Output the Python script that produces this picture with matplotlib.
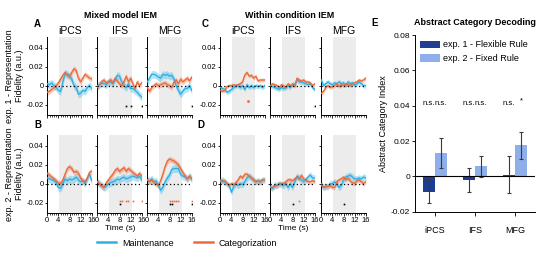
import numpy as np
import matplotlib.pyplot as plt

plt.rcParams['font.family'] = ['Liberation Sans', 'DejaVu Sans']

W, H = 553, 260
t = np.arange(21) * 0.8
rois = ['iPCS', 'IFS', 'MFG']

col_m = '#2cb1e6'
col_c = '#ec6b3c'

# ---- time courses (mean), Maintenance / Categorization ----
A_ipcs_m = [0.002, 0.001, 0.003, 0.000, -0.002, -0.005, -0.006, 0.004, 0.013, 0.012, 0.010, 0.007, 0.000, -0.002, -0.009, -0.008, -0.005, -0.006, -0.002, 0.000, -0.003]
A_ipcs_c = [-0.007, -0.006, -0.004, -0.002, 0.000, 0.003, 0.007, 0.011, 0.014, 0.011, 0.010, 0.014, 0.018, 0.016, 0.008, 0.004, 0.008, 0.012, 0.010, 0.008, 0.007]
A_ifs_m = [0.000, 0.001, 0.003, 0.002, 0.001, 0.004, 0.004, 0.002, 0.006, 0.011, 0.010, 0.004, 0.000, -0.002, 0.002, -0.003, -0.003, -0.005, -0.007, -0.010, -0.012]
A_ifs_c = [-0.002, 0.001, 0.004, 0.006, 0.003, 0.004, 0.006, 0.003, 0.008, 0.005, 0.002, 0.000, 0.004, 0.010, 0.004, 0.008, 0.002, -0.003, 0.004, 0.000, 0.003]
A_mfg_m = [0.004, 0.008, 0.012, 0.012, 0.011, 0.009, 0.008, 0.012, 0.011, 0.012, 0.010, 0.011, 0.007, 0.000, -0.005, -0.009, -0.006, -0.003, -0.003, 0.000, -0.005]
A_mfg_c = [-0.002, -0.006, -0.002, 0.000, 0.002, 0.000, 0.001, 0.002, 0.003, 0.001, 0.000, -0.002, 0.004, 0.006, 0.002, 0.007, 0.004, 0.006, 0.008, 0.005, 0.009]

B_ipcs_m = [0.006, 0.005, 0.004, 0.003, 0.001, -0.004, -0.005, 0.000, 0.005, 0.003, 0.005, 0.004, 0.005, 0.007, 0.004, 0.002, 0.003, 0.000, 0.006, 0.010, 0.003]
B_ipcs_c = [0.011, 0.009, 0.007, 0.005, 0.003, 0.001, 0.000, 0.004, 0.010, 0.016, 0.018, 0.016, 0.012, 0.013, 0.011, 0.006, 0.003, 0.002, 0.006, 0.012, 0.013]
B_ifs_m = [0.002, 0.000, -0.002, -0.004, -0.003, 0.000, 0.001, 0.002, 0.003, 0.005, 0.004, 0.006, 0.007, 0.005, 0.006, 0.007, 0.008, 0.007, 0.006, 0.008, 0.004]
B_ifs_c = [0.002, 0.000, -0.003, -0.004, 0.001, 0.004, 0.007, 0.010, 0.014, 0.016, 0.013, 0.015, 0.017, 0.013, 0.016, 0.014, 0.012, 0.010, 0.008, 0.011, 0.008]
B_mfg_m = [0.004, 0.003, 0.005, 0.002, 0.003, -0.002, -0.007, -0.004, 0.002, 0.006, 0.009, 0.015, 0.016, 0.016, 0.016, 0.010, 0.008, 0.007, 0.005, 0.008, 0.005]
B_mfg_c = [0.004, 0.002, 0.004, 0.001, 0.000, -0.002, 0.003, 0.010, 0.018, 0.024, 0.026, 0.025, 0.024, 0.022, 0.020, 0.016, 0.012, 0.008, 0.005, 0.008, 0.005]

C_ipcs_m = [-0.002, -0.003, -0.004, -0.007, -0.006, -0.004, -0.002, 0.000, 0.000, -0.002, 0.000, -0.004, 0.001, -0.002, 0.000, -0.002, 0.000, -0.001, 0.000, -0.002, 0.000]
C_ipcs_c = [-0.005, -0.006, -0.005, -0.001, 0.000, 0.000, 0.001, 0.000, 0.001, 0.002, 0.004, 0.011, 0.014, 0.010, 0.011, 0.008, 0.010, 0.005, 0.006, 0.006, 0.006]
C_ifs_m = [0.000, -0.001, -0.002, -0.003, -0.004, -0.002, -0.003, -0.002, 0.000, -0.002, 0.002, 0.001, 0.006, 0.004, 0.004, 0.003, 0.002, 0.001, 0.002, -0.002, -0.004]
C_ifs_c = [0.000, 0.002, 0.001, 0.000, -0.002, 0.001, 0.000, -0.002, 0.002, 0.000, 0.001, -0.001, 0.008, 0.006, 0.005, 0.006, 0.004, 0.004, 0.003, 0.000, 0.002]
C_mfg_m = [0.006, 0.000, 0.002, 0.004, 0.002, 0.001, 0.003, 0.002, 0.004, 0.002, 0.003, 0.000, 0.004, 0.002, 0.003, 0.000, 0.002, 0.004, 0.002, 0.000, 0.000]
C_mfg_c = [-0.008, -0.006, -0.002, 0.000, -0.002, -0.001, 0.000, 0.002, -0.001, 0.001, 0.000, 0.002, 0.001, 0.000, 0.002, 0.003, 0.004, 0.006, 0.005, 0.006, 0.008]

D_ipcs_m = [0.002, 0.004, 0.002, 0.000, -0.002, -0.009, -0.003, 0.000, -0.002, 0.000, -0.001, 0.002, 0.006, 0.008, 0.006, 0.004, 0.002, 0.003, 0.002, 0.004, 0.004]
D_ipcs_c = [0.004, 0.002, 0.003, 0.000, -0.002, 0.000, -0.001, 0.001, 0.004, 0.008, 0.006, 0.010, 0.010, 0.008, 0.006, 0.004, 0.002, 0.003, 0.002, 0.004, 0.004]
D_ifs_m = [-0.003, -0.005, -0.001, -0.002, 0.000, -0.001, -0.002, 0.000, -0.004, 0.000, -0.004, 0.002, 0.008, 0.006, 0.004, 0.002, 0.004, 0.007, 0.009, 0.006, 0.006]
D_ifs_c = [-0.004, -0.004, -0.003, -0.002, 0.000, 0.000, 0.000, 0.002, 0.004, 0.004, 0.003, 0.005, 0.007, 0.005, 0.009, 0.005, 0.004, 0.002, 0.002, 0.003, 0.002]
D_mfg_m = [-0.002, -0.004, -0.003, -0.003, 0.000, 0.000, 0.002, 0.000, -0.004, -0.002, 0.004, 0.007, 0.008, 0.009, 0.007, 0.005, 0.005, 0.006, 0.005, 0.007, 0.006]
D_mfg_c = [0.000, -0.004, -0.003, -0.003, -0.002, -0.004, -0.004, 0.002, 0.004, 0.005, 0.007, 0.004, 0.006, 0.003, 0.001, 0.000, 0.003, 0.004, 0.002, 0.000, 0.002]

# band half-widths (s.e.m.) per panel: (maintenance, categorization)
sem = {'A': (0.004, 0.003), 'B': (0.004, 0.003), 'C': (0.0025, 0.002), 'D': (0.0035, 0.0025)}

# significant time points: (panel, roi) -> (orange times, black times)
sig = {
    ('A', 'IFS'): ([], [10.4, 12.0, 16.0]),
    ('A', 'MFG'): ([], [16.0]),
    ('B', 'IFS'): ([8.0, 8.8, 10.4, 11.2, 12.8, 16.0], [8.0]),
    ('B', 'MFG'): ([8.0, 8.8, 9.6, 10.4, 11.2, 16.0], [8.0, 8.8, 16.0]),
    ('C', 'IFS'): ([], [16.0]),
    ('D', 'IFS'): ([10.4], [8.0]),
    ('D', 'MFG'): ([], [8.0]),
}
sig_C_ipcs = (10.0, -0.016)

traces = {
    'A': [(A_ipcs_m, A_ipcs_c), (A_ifs_m, A_ifs_c), (A_mfg_m, A_mfg_c)],
    'B': [(B_ipcs_m, B_ipcs_c), (B_ifs_m, B_ifs_c), (B_mfg_m, B_mfg_c)],
    'C': [(C_ipcs_m, C_ipcs_c), (C_ifs_m, C_ifs_c), (C_mfg_m, C_mfg_c)],
    'D': [(D_ipcs_m, D_ipcs_c), (D_ifs_m, D_ifs_c), (D_mfg_m, D_mfg_c)],
}

# ---- panel E ----
e_exp1 = [-0.0086, -0.0019, 0.0008]
e_exp1_err = [0.0063, 0.0068, 0.0105]
e_exp2 = [0.0130, 0.0057, 0.0175]
e_exp2_err = [0.0085, 0.0058, 0.0074]
e_sig1 = ['n.s.', 'n.s.', 'n.s.']
e_sig2 = ['n.s.', 'n.s.', '*']

fig = plt.figure(figsize=(W / 100, H / 100), dpi=100)


def px_axes(x0, y0, w, h):
    return fig.add_axes([x0 / W, 1 - (y0 + h) / H, w / W, h / H])


row_top = {'A': 36.5, 'B': 134.5, 'C': 36.5, 'D': 134.5}
col_x = {'A': [47.3, 97.3, 147.3], 'B': [47.3, 97.3, 147.3],
         'C': [220.3, 270.3, 321.3], 'D': [220.3, 270.3, 321.3]}
tick_fs = 5.5
handles = None

for p in ['A', 'B', 'C', 'D']:
    for i, roi in enumerate(rois):
        ax = px_axes(col_x[p][i], row_top[p], 45, 78.5)
        ax.axvspan(4.2, 12.4, color='#ececec', lw=0, zorder=0)
        m, c = traces[p][i]
        sm, sc = sem[p]
        m = np.array(m)
        c = np.array(c)
        ax.fill_between(t, m - sm, m + sm, color=col_m, alpha=0.35, lw=0, zorder=1)
        ax.fill_between(t, c - sc, c + sc, color=col_c, alpha=0.35, lw=0, zorder=1)
        l1, = ax.plot(t, m, color=col_m, lw=1.0, zorder=3, label='Maintenance')
        l2, = ax.plot(t, c, color=col_c, lw=1.0, zorder=3, label='Categorization')
        if handles is None:
            handles = [l1, l2]
        ax.axhline(0, color='black', ls=(0, (1, 2)), lw=0.9, zorder=4)
        if (p, roi) in sig:
            so, sb = sig[(p, roi)]
            ax.plot(so, [-0.018] * len(so), 's', color=col_c, ms=1.2, mew=0)
            ax.plot(sb, [-0.022] * len(sb), 's', color='black', ms=1.2, mew=0)
        if p == 'C' and roi == 'iPCS':
            ax.plot([sig_C_ipcs[0]], [sig_C_ipcs[1]], 'o', color=col_c, ms=2, mew=0)
        ax.set_xlim(0, 16.2)
        ax.set_ylim(-0.031, 0.052)
        ax.spines['top'].set_visible(False)
        ax.spines['right'].set_visible(False)
        for s in ['left', 'bottom']:
            ax.spines[s].set_linewidth(0.7)
        ax.set_xticks(t, minor=True)
        ax.set_xticks([0, 4, 8, 12, 16])
        ax.set_yticks([-0.02, 0, 0.02, 0.04])
        ax.tick_params(which='both', direction='out', length=1.8, width=0.6,
                       labelsize=tick_fs, pad=1)
        ax.tick_params(which='minor', length=1.5, width=0.5)
        if p in ('B', 'D'):
            ax.set_xticklabels(['0', '4', '8', '12', '16'])
            if i == 1:
                ax.set_xlabel('Time (s)', fontsize=6, labelpad=1)
        else:
            ax.set_xticklabels([])
            ax.set_title(roi, fontsize=7.5, pad=2)
        if i == 0:
            ax.set_yticklabels(['-0.02', '0', '0.02', '0.04'])
        else:
            ax.set_yticklabels([])
        if i == 0 and p in ('A', 'B'):
            n = '1' if p == 'A' else '2'
            ax.set_ylabel('exp. %s - Representation\nFidelity (a.u.)' % n,
                          fontsize=6.5, labelpad=2, linespacing=1.1)

# panel titles and letters
fig.text(120 / W, 1 - 16 / H, 'Mixed model IEM', fontsize=6.5, fontweight='bold', ha='center', va='center')
fig.text(290 / W, 1 - 16 / H, 'Within condition IEM', fontsize=6.5, fontweight='bold', ha='center', va='center')
for lab, x, y in [('A', 37, 24), ('B', 38, 125), ('C', 205, 24), ('D', 201, 125), ('E', 375, 23)]:
    fig.text(x / W, 1 - y / H, lab, fontsize=7, fontweight='bold', ha='center', va='center')

fig.legend(handles, ['Maintenance', 'Categorization'], loc='center',
           bbox_to_anchor=(187 / W, 1 - 243 / H), ncol=2, frameon=False,
           fontsize=6.5, handlelength=2.1, columnspacing=2.2, handletextpad=0.65,
           borderpad=0, borderaxespad=0)
for lh in fig.legends[0].get_lines():
    lh.set_linewidth(1.8)

# ---- panel E ----
axe = px_axes(415, 35, 120, 176.7)
x = np.arange(3)
bw = 0.3
axe.bar(x - bw / 2, e_exp1, bw, color='#1e3f91', label='exp. 1 - Flexible Rule', zorder=2)
axe.bar(x + bw / 2, e_exp2, bw, color='#8eafea', label='exp. 2 - Fixed Rule', zorder=2)
axe.errorbar(x - bw / 2, e_exp1, yerr=e_exp1_err, fmt='none', ecolor='#3a3a3a',
             elinewidth=0.8, capsize=1.5, capthick=0.8, zorder=3)
axe.errorbar(x + bw / 2, e_exp2, yerr=e_exp2_err, fmt='none', ecolor='#3a3a3a',
             elinewidth=0.8, capsize=1.5, capthick=0.8, zorder=3)
axe.axhline(0, color='black', lw=0.8, zorder=4)
for xi, s1, s2 in zip(x, e_sig1, e_sig2):
    axe.text(xi - bw / 2, 0.0415, s1, fontsize=5.5, ha='center', va='center')
    axe.text(xi + bw / 2, 0.0415 if s2 != '*' else 0.0425, s2, fontsize=5.5, ha='center', va='center')
axe.set_xlim(-0.5, 2.5)
axe.set_ylim(-0.02, 0.08)
axe.set_yticks([-0.02, 0, 0.02, 0.04, 0.06, 0.08])
axe.set_yticklabels(['-0.02', '0', '0.02', '0.04', '0.06', '0.08'])
axe.set_xticks(x)
axe.set_xticklabels(rois)
axe.spines['top'].set_visible(False)
axe.spines['right'].set_visible(False)
for s in ['left', 'bottom']:
    axe.spines[s].set_linewidth(0.7)
axe.tick_params(axis='y', direction='out', length=2, width=0.6, labelsize=6, pad=1.5)
axe.tick_params(axis='x', direction='out', length=3, width=0.6, labelsize=6.5, pad=7)
axe.set_ylabel('Abstract Category Index', fontsize=6.5, labelpad=2)
axe.set_title('Abstract Category Decoding', fontsize=6.5, fontweight='bold', pad=7)
axe.legend(loc='upper left', fontsize=6.5, frameon=False, handlelength=2.2,
           handleheight=0.9, borderaxespad=0.2, labelspacing=0.5, handletextpad=0.3)

fig.savefig('out.png', dpi=100)
